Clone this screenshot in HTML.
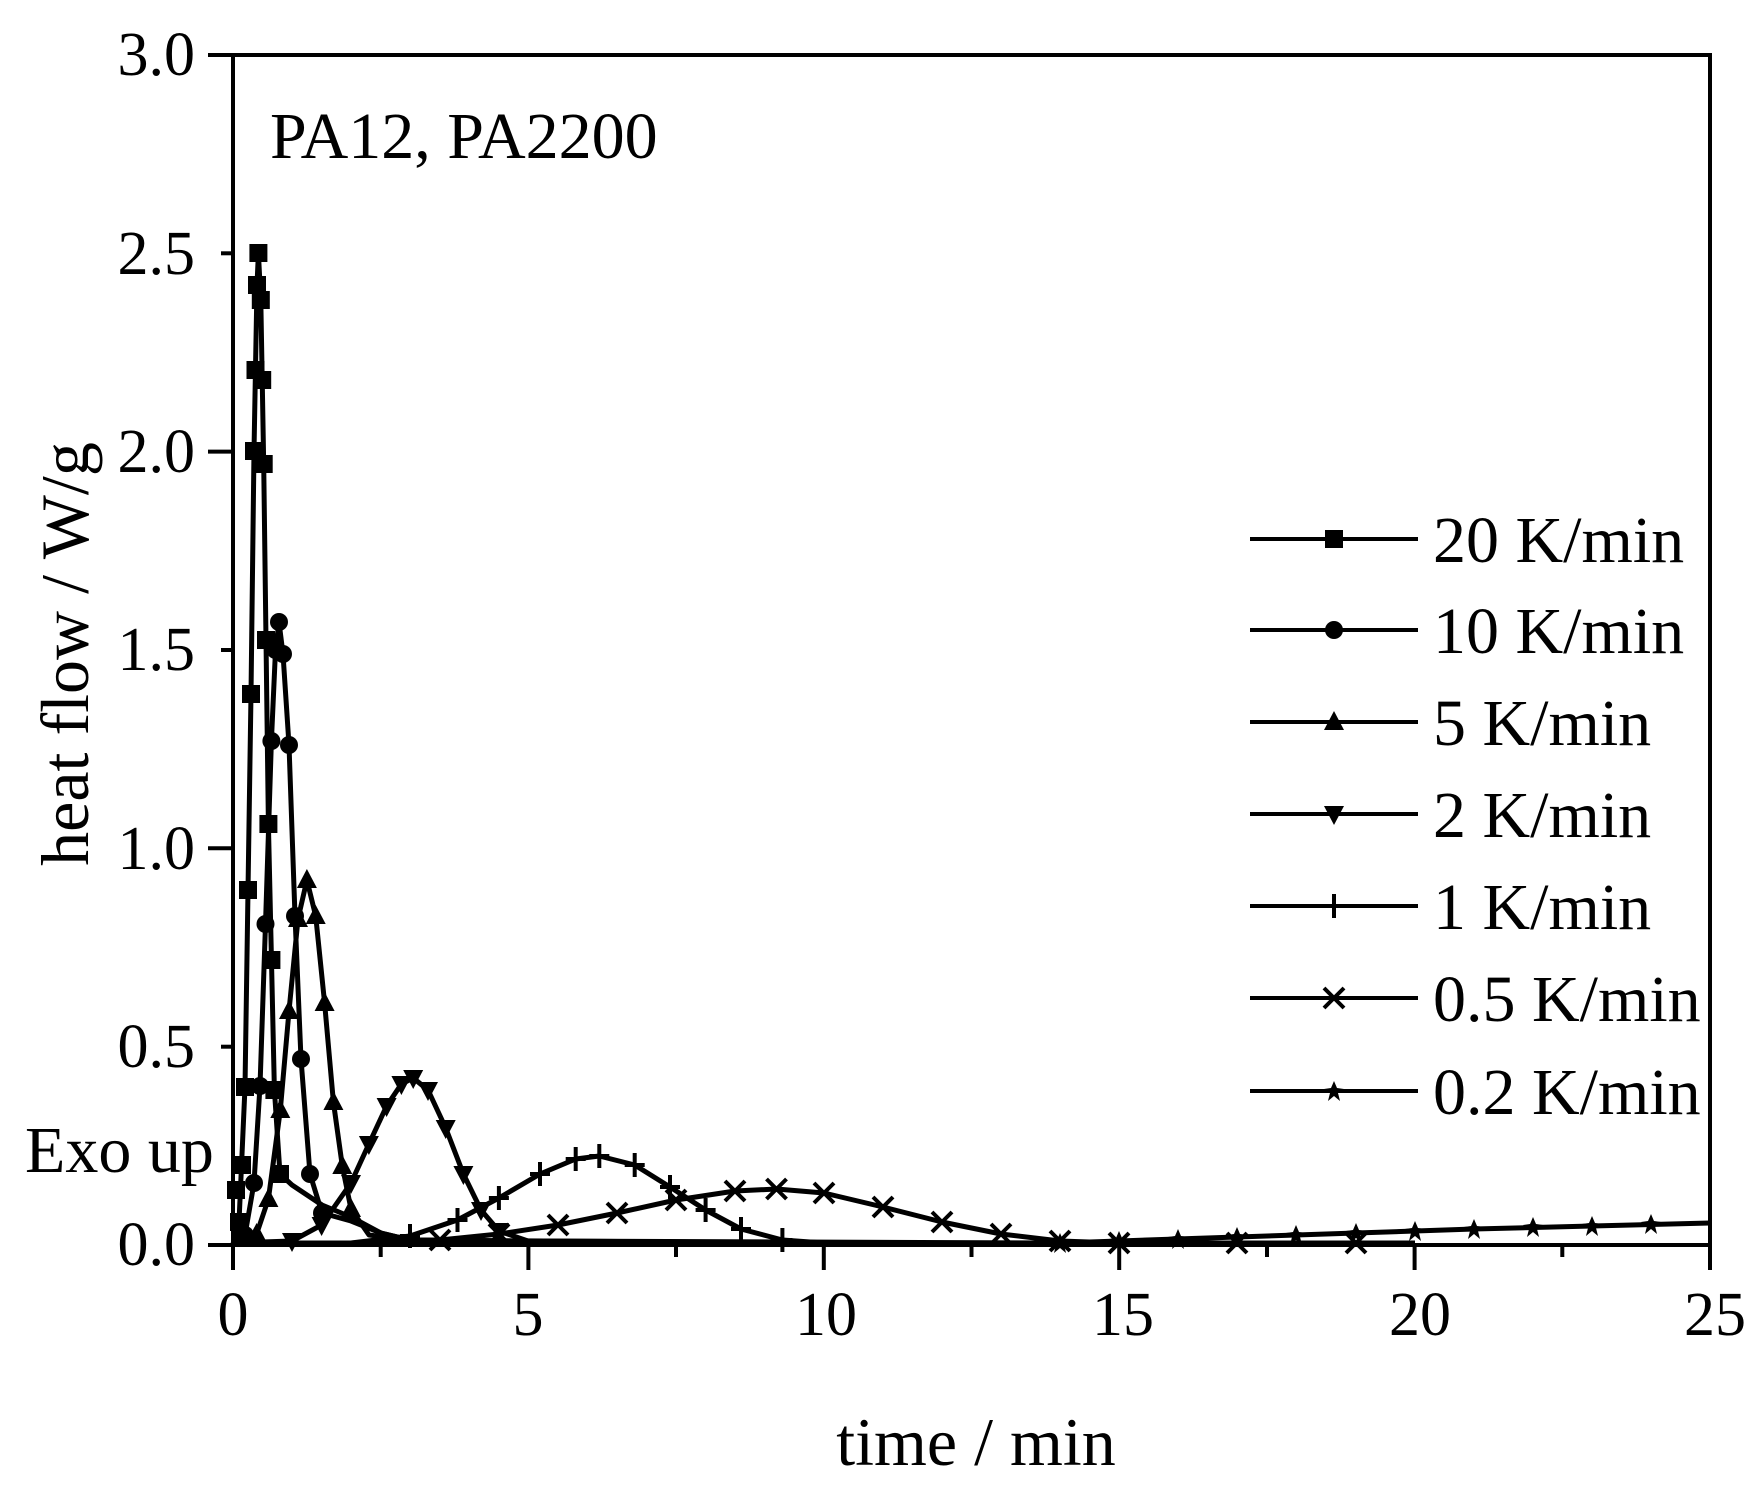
<!DOCTYPE html>
<html><head><meta charset="utf-8"><style>
html,body{margin:0;padding:0;background:#fff;}
svg{display:block;}
text{font-family:"Liberation Serif","DejaVu Serif",serif;fill:#000;}
</style></head><body>
<svg width="1758" height="1489" viewBox="0 0 1758 1489" xmlns="http://www.w3.org/2000/svg">
<defs>
<rect id="sq" x="-9" y="-9" width="18" height="18" fill="#000"/>
<circle id="ci" r="9" fill="#000"/>
<polygon id="tu" points="0,-11 -10,8 10,8" fill="#000"/>
<polygon id="td" points="0,11 -10,-8 10,-8" fill="#000"/>
<path id="pl" d="M-10 0H10M0 -12V12" stroke="#000" stroke-width="4"/>
<path id="xx" d="M-10 -10L10 10M10 -10L-10 10" stroke="#000" stroke-width="4"/>
<polygon id="st" points="0,-10 3,-3 10,-2 4,2 6,10 0,5 -6,10 -4,2 -10,-2 -3,-3" fill="#000"/>
</defs>
<rect width="1758" height="1489" fill="#fff"/>
<g fill="none" stroke="#000" stroke-width="5" stroke-linejoin="round">
<polyline points="233,1243 1060,1243 1119,1241 1237,1237 1356,1233 1474,1229 1592,1226 1710,1223"/>
<polyline points="233,1244 351,1243 440,1240 499,1234 558,1225 617,1213 676,1200 735,1191 776.5,1189 824,1193 883,1207 942,1222 1001,1234 1060,1241 1119,1243 1415,1243"/>
<polyline points="233,1243 351,1243 410,1236 457.5,1220 498.9,1198 540,1174 575.7,1159 599.3,1156 634.7,1165 670,1187 705.6,1210 741,1229 782.4,1240 824,1243 1415,1243"/>
<polyline points="233,1243 292,1241 321.6,1225 351,1183 368.9,1144 386.6,1106 401.4,1084 413.2,1078 428,1090 445.7,1128 463.4,1174 481,1210 499,1231 528,1241 1060,1243"/>
<polyline points="233,1240 256.6,1234 268.4,1199 280.3,1110 289,1011 298,919 306.9,880 315.7,916 324.6,1003 333.4,1102 342.3,1166 351,1209 369,1235 410,1240 824,1243"/>
<polyline points="233,1244 245,1235 254,1183 260,1086 265.5,924 271.4,741 275.5,650 279,622 283,654 289,745 295,916 301,1059 310,1174 322,1213 351,1221 381,1233 410,1240 706,1243"/>
<polyline points="233,1244 239,1222 245,1087 251,694 254,451 257,285 258.4,253 260.8,300 263.7,464 268.4,824 274.4,1090 280,1174 292,1185 322,1205 351,1217 381,1233 410,1240 676,1243"/>
</g>
<g>
<use href="#sq" x="239" y="1222"/><use href="#sq" x="245" y="1087"/><use href="#sq" x="248" y="890"/><use href="#sq" x="251" y="694"/><use href="#sq" x="254" y="451"/><use href="#sq" x="255.5" y="370"/><use href="#sq" x="257" y="285"/><use href="#sq" x="258.4" y="253"/><use href="#sq" x="260.8" y="300"/><use href="#sq" x="262.2" y="380"/><use href="#sq" x="263.7" y="464"/><use href="#sq" x="266" y="640"/><use href="#sq" x="268.4" y="824"/><use href="#sq" x="271.4" y="960"/><use href="#sq" x="274.4" y="1090"/><use href="#sq" x="280" y="1174"/><use href="#sq" x="236" y="1190"/><use href="#sq" x="242" y="1165"/>
<use href="#ci" x="245" y="1235"/><use href="#ci" x="254" y="1183"/><use href="#ci" x="260" y="1086"/><use href="#ci" x="265.5" y="924"/><use href="#ci" x="271.4" y="741"/><use href="#ci" x="275.5" y="650"/><use href="#ci" x="279" y="622"/><use href="#ci" x="283" y="654"/><use href="#ci" x="289" y="745"/><use href="#ci" x="295" y="916"/><use href="#ci" x="301" y="1059"/><use href="#ci" x="310" y="1174"/><use href="#ci" x="322" y="1213"/>
<use href="#tu" x="256.6" y="1234"/><use href="#tu" x="268.4" y="1199"/><use href="#tu" x="280.3" y="1110"/><use href="#tu" x="289" y="1011"/><use href="#tu" x="298" y="919"/><use href="#tu" x="306.9" y="880"/><use href="#tu" x="315.7" y="916"/><use href="#tu" x="324.6" y="1003"/><use href="#tu" x="333.4" y="1102"/><use href="#tu" x="342.3" y="1166"/><use href="#tu" x="351" y="1209"/>
<use href="#td" x="292" y="1241"/><use href="#td" x="321.6" y="1225"/><use href="#td" x="351" y="1183"/><use href="#td" x="368.9" y="1144"/><use href="#td" x="386.6" y="1106"/><use href="#td" x="401.4" y="1084"/><use href="#td" x="413.2" y="1078"/><use href="#td" x="428" y="1090"/><use href="#td" x="445.7" y="1128"/><use href="#td" x="463.4" y="1174"/><use href="#td" x="481" y="1210"/><use href="#td" x="499" y="1231"/>
<use href="#pl" x="410" y="1236"/><use href="#pl" x="457.5" y="1220"/><use href="#pl" x="498.9" y="1198"/><use href="#pl" x="540" y="1174"/><use href="#pl" x="575.7" y="1159"/><use href="#pl" x="599.3" y="1156"/><use href="#pl" x="634.7" y="1165"/><use href="#pl" x="670" y="1187"/><use href="#pl" x="705.6" y="1210"/><use href="#pl" x="741" y="1229"/><use href="#pl" x="782.4" y="1240"/>
<use href="#xx" x="440" y="1240"/><use href="#xx" x="499" y="1234"/><use href="#xx" x="558" y="1225"/><use href="#xx" x="617" y="1213"/><use href="#xx" x="676" y="1200"/><use href="#xx" x="735" y="1191"/><use href="#xx" x="776.5" y="1189"/><use href="#xx" x="824" y="1193"/><use href="#xx" x="883" y="1207"/><use href="#xx" x="942" y="1222"/><use href="#xx" x="1001" y="1234"/><use href="#xx" x="1060" y="1241"/><use href="#xx" x="1119" y="1243"/><use href="#xx" x="1237" y="1243"/><use href="#xx" x="1356" y="1243"/>
<use href="#st" x="1060" y="1243"/><use href="#st" x="1119" y="1241"/><use href="#st" x="1178" y="1239"/><use href="#st" x="1237" y="1237"/><use href="#st" x="1296" y="1235"/><use href="#st" x="1356" y="1233"/><use href="#st" x="1415" y="1231"/><use href="#st" x="1474" y="1229"/><use href="#st" x="1533" y="1227"/><use href="#st" x="1592" y="1226"/><use href="#st" x="1651" y="1224"/>
</g>
<rect x="233" y="55" width="1477" height="1190" fill="none" stroke="#000" stroke-width="4"/>
<g stroke="#000" stroke-width="4">
<line x1="233" y1="1245" x2="233" y2="1270"/><line x1="380.7" y1="1245" x2="380.7" y2="1257"/>
<line x1="528.4" y1="1245" x2="528.4" y2="1270"/><line x1="676" y1="1245" x2="676" y2="1257"/>
<line x1="823.8" y1="1245" x2="823.8" y2="1270"/><line x1="971.5" y1="1245" x2="971.5" y2="1257"/>
<line x1="1119.2" y1="1245" x2="1119.2" y2="1270"/><line x1="1267" y1="1245" x2="1267" y2="1257"/>
<line x1="1414.6" y1="1245" x2="1414.6" y2="1270"/><line x1="1562.3" y1="1245" x2="1562.3" y2="1257"/>
<line x1="1710" y1="1245" x2="1710" y2="1270"/>
<line x1="233" y1="1245" x2="208" y2="1245"/><line x1="233" y1="1046.7" x2="221" y2="1046.7"/>
<line x1="233" y1="848.3" x2="208" y2="848.3"/><line x1="233" y1="650" x2="221" y2="650"/>
<line x1="233" y1="451.6" x2="208" y2="451.6"/><line x1="233" y1="253.3" x2="221" y2="253.3"/>
<line x1="233" y1="55" x2="208" y2="55"/>
</g>
<g font-size="62">
<text x="195" y="75" text-anchor="end">3.0</text>
<text x="195" y="274" text-anchor="end">2.5</text>
<text x="195" y="472" text-anchor="end">2.0</text>
<text x="195" y="670" text-anchor="end">1.5</text>
<text x="195" y="869" text-anchor="end">1.0</text>
<text x="195" y="1067" text-anchor="end">0.5</text>
<text x="195" y="1265" text-anchor="end">0.0</text>
<text x="233" y="1335" text-anchor="middle">0</text>
<text x="528" y="1335" text-anchor="middle">5</text>
<text x="826" y="1335" text-anchor="middle">10</text>
<text x="1123" y="1335" text-anchor="middle">15</text>
<text x="1420" y="1335" text-anchor="middle">20</text>
<text x="1715" y="1335" text-anchor="middle">25</text>
</g>
<text x="270" y="158" font-size="66">PA12, PA2200</text>
<text x="25" y="1172" font-size="66">Exo up</text>
<text x="976" y="1465" font-size="68" text-anchor="middle">time / min</text>
<text transform="translate(88,654) rotate(-90)" font-size="68" text-anchor="middle">heat flow / W/g</text>
<g stroke="#000" stroke-width="4">
<line x1="1250" y1="539" x2="1418" y2="539"/><line x1="1250" y1="630" x2="1418" y2="630"/>
<line x1="1250" y1="722" x2="1418" y2="722"/><line x1="1250" y1="814" x2="1418" y2="814"/>
<line x1="1250" y1="906" x2="1418" y2="906"/><line x1="1250" y1="998" x2="1418" y2="998"/>
<line x1="1250" y1="1091" x2="1418" y2="1091"/>
</g>
<use href="#sq" x="1334" y="539"/><use href="#ci" x="1334" y="630"/><use href="#tu" x="1334" y="722"/><use href="#td" x="1334" y="814"/><use href="#pl" x="1334" y="906"/><use href="#xx" x="1334" y="998"/><use href="#st" x="1334" y="1091"/>
<g font-size="66">
<text x="1433" y="562">20 K/min</text>
<text x="1433" y="653">10 K/min</text>
<text x="1433" y="745">5 K/min</text>
<text x="1433" y="837">2 K/min</text>
<text x="1433" y="929">1 K/min</text>
<text x="1433" y="1021">0.5 K/min</text>
<text x="1433" y="1114">0.2 K/min</text>
</g>
</svg>
</body></html>
